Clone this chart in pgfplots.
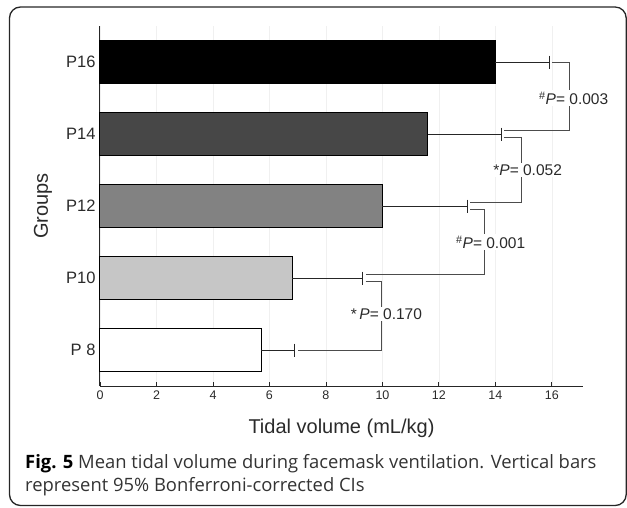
\documentclass[border=0pt]{standalone}
\usepackage{pgfplots}
\pgfplotsset{compat=1.18}
\usepackage{fontspec}
\setmainfont{Liberation Sans}
\newfontfamily\capfont{Open Sans}

\definecolor{barA}{HTML}{000000}
\definecolor{barB}{HTML}{474747}
\definecolor{barC}{HTML}{828282}
\definecolor{barD}{HTML}{C6C6C6}
\definecolor{txt}{HTML}{2A2A2A}

\begin{document}
\begin{tikzpicture}[x=1pt,y=1pt]
\useasboundingbox (0,0) rectangle (627,-507);
\draw[line width=1.3pt, black!85, rounded corners=11pt] (9.5,-7) rectangle (626.2,-505.5);

\begin{axis}[
    at={(100pt,-386pt)}, anchor=south west,
    scale only axis, width=483pt, height=360pt,
    xmin=0, xmax=17.1, ymin=-0.5, ymax=4.5,
    clip=false,
    axis lines=left, axis line style={-, line width=1pt, black!85},
    xtick={0,2,...,16}, ytick={0,1,2,3,4},
    xticklabel={\fontsize{12.5}{15}\selectfont\pgfmathprintnumber[assume math mode=true]{\tick}},
    yticklabels={P 8,P10,P12,P14,P16},
    tick align=inside, major tick length=4pt,
    xtick style={line width=0.9pt, black!85},
    ytick style={draw=none},
    xmajorgrids, grid style={black!6},
    /pgf/number format/assume math mode=true,
    ticklabel style={text=txt},
    xticklabel style={yshift=-1pt},
    yticklabel style={font=\fontsize{16.5}{18}\selectfont, xshift=-1pt},
    xlabel={Tidal volume (mL/kg)},
    ylabel={Groups},
    label style={font=\fontsize{20}{23}\selectfont, text=txt},
    xlabel style={at={(axis description cs:0.5,-0.117)}, anchor=center},
    ylabel style={at={(axis description cs:-0.118,0.5)}, anchor=center},
    every error bar/.style={line width=0.9pt, black!85},
]
% bars with 95% CI (upper side only)
\addplot[xbar, bar width=0.6, bar shift=0pt, fill=white, draw=black, line width=1pt,
  error bars/.cd, x dir=plus, x explicit,
  error mark options={rotate=90, mark size=6.5pt, line width=0.9pt, black!85}]
  coordinates {(5.7,0) +- (1.2,0)};
\addplot[xbar, bar width=0.6, bar shift=0pt, fill=barD, draw=black, line width=1pt,
  error bars/.cd, x dir=plus, x explicit,
  error mark options={rotate=90, mark size=6.5pt, line width=0.9pt, black!85}]
  coordinates {(6.8,1) +- (2.5,0)};
\addplot[xbar, bar width=0.6, bar shift=0pt, fill=barC, draw=black, line width=1pt,
  error bars/.cd, x dir=plus, x explicit,
  error mark options={rotate=90, mark size=6.5pt, line width=0.9pt, black!85}]
  coordinates {(10.0,2) +- (3.0,0)};
\addplot[xbar, bar width=0.6, bar shift=0pt, fill=barB, draw=black, line width=1pt,
  error bars/.cd, x dir=plus, x explicit,
  error mark options={rotate=90, mark size=6.5pt, line width=0.9pt, black!85}]
  coordinates {(11.6,3) +- (2.6,0)};
\addplot[xbar, bar width=0.6, bar shift=0pt, fill=barA, draw=black, line width=1pt,
  error bars/.cd, x dir=plus, x explicit,
  error mark options={rotate=90, mark size=6.5pt, line width=0.9pt, black!85}]
  coordinates {(14.0,4) +- (1.9,0)};

% comparison brackets
\addplot[sharp plot, no marks, line width=0.8pt, black!70] coordinates {(16.0,4.0) (16.62,4.0) (16.62,3.05) (14.3,3.05)};
\addplot[sharp plot, no marks, line width=0.8pt, black!70] coordinates {(14.3,2.95) (14.93,2.95) (14.93,2.05) (13.1,2.05)};
\addplot[sharp plot, no marks, line width=0.8pt, black!70] coordinates {(13.1,1.95) (13.62,1.95) (13.62,1.05) (9.4,1.05)};
\addplot[sharp plot, no marks, line width=0.8pt, black!70] coordinates {(9.4,0.95) (9.96,0.95) (9.96,0.0) (7.0,0.0)};

\begin{scope}[every node/.style={fill=white, inner sep=1.5pt, text=txt, font=\fontsize{15.5}{17}\selectfont}]
\node at (axis cs:16.77,3.5) {\textsuperscript{\#}\textit{P}= 0.003};
\node at (axis cs:15.14,2.5) {*\textit{P}= 0.052};
\node at (axis cs:13.83,1.5) {\textsuperscript{\#}\textit{P}= 0.001};
\node at (axis cs:10.14,0.5) {*\,\textit{P}= 0.170};
\end{scope}
\end{axis}

\node[anchor=base west, inner sep=0, font=\capfont\fontsize{18.4}{20}\selectfont, text=black!80] at (25,-468)
  {{\bfseries\color{black}Fig. 5} Mean tidal volume during facemask ventilation. Vertical bars};
\node[anchor=base west, inner sep=0, font=\capfont\fontsize{18.4}{20}\selectfont, text=black!80] at (25,-491)
  {represent 95\% Bonferroni-corrected CIs};
\end{tikzpicture}
\end{document}
